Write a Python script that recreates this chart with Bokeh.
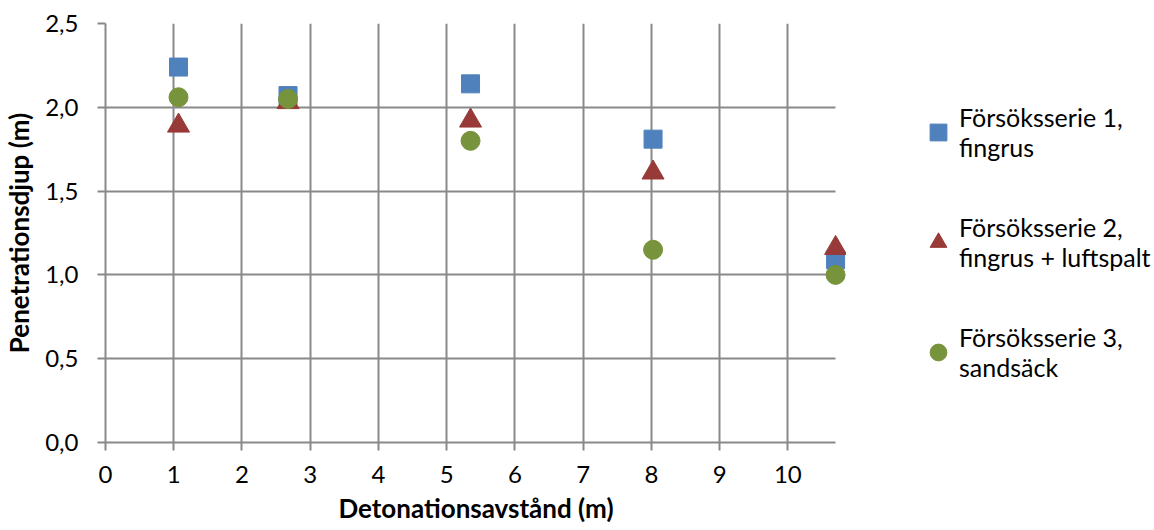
from bokeh.plotting import figure
from bokeh.layouts import row
from bokeh.models import Legend, LegendItem, FixedTicker
from bokeh.embed import file_html
from bokeh.resources import INLINE

# ---- data ----
x_values = [1.07, 2.675, 5.35, 8.025, 10.7]
serie1 = [2.24, 2.07, 2.14, 1.81, 1.09]
serie2 = [1.89, 2.03, 1.92, 1.61, 1.16]
serie3 = [2.06, 2.05, 1.80, 1.15, 1.00]
series_names = [
    "Försöksserie 1,\nfingrus",
    "Försöksserie 2,\nfingrus + luftspalt",
    "Försöksserie 3,\nsandsäck",
]
x_ticks = [0, 1, 2, 3, 4, 5, 6, 7, 8, 9, 10]
x_tick_labels = ["0", "1", "2", "3", "4", "5", "6", "7", "8", "9", "10"]
y_ticks = [0, 0.5, 1.0, 1.5, 2.0, 2.5]
y_tick_labels = ["0,0", "0,5", "1,0", "1,5", "2,0", "2,5"]
x_max = 10.7
x_title = "Detonationsavstånd (m)"
y_title = "Penetrationsdjup (m)"

# ---- style ----
FONT = "Lato"
GRID = "#898989"
BLUE = "#4F81BD"
RED = "#983A37"
GREEN = "#77933C"
markers = ["square", "triangle", "circle"]
colors = [BLUE, RED, GREEN]
sizes = [18, 22, 19]

# main plot: frame a little wider than x_max so edge markers are not cut;
# grid and axis line stop at x_max as in the original
p = figure(width=846, height=530, x_range=(0, 10.86), y_range=(0, 2.5),
           output_backend="svg", toolbar_location=None,
           min_border_left=104, min_border_right=0,
           min_border_top=23, min_border_bottom=88)

p.outline_line_color = None
p.background_fill_color = "white"
p.border_fill_color = "white"

for g in (p.xgrid, p.ygrid):
    g.grid_line_color = GRID
    g.grid_line_width = 2
p.ygrid.cross_bounds = (0, x_max)

p.xaxis.ticker = FixedTicker(ticks=x_ticks)
p.yaxis.ticker = FixedTicker(ticks=y_ticks)
p.xaxis.major_label_overrides = dict(zip(x_ticks, x_tick_labels))
p.yaxis.major_label_overrides = dict(zip(y_ticks, y_tick_labels))
p.xaxis.bounds = (0, x_max)

for ax in (p.xaxis, p.yaxis):
    ax.axis_line_color = GRID
    ax.axis_line_width = 2
    ax.major_tick_line_color = GRID
    ax.major_tick_line_width = 2
    ax.major_tick_out = 8
    ax.major_tick_in = 0
    ax.minor_tick_line_color = None
    ax.major_label_text_font = FONT
    ax.major_label_text_font_size = "24px"
    ax.major_label_text_color = "#000000"
    ax.axis_label_text_font = FONT
    ax.axis_label_text_font_size = "26px"
    ax.axis_label_text_font_style = "bold"
    ax.axis_label_text_color = "#000000"

p.xaxis.axis_label = x_title
p.yaxis.axis_label = y_title
p.xaxis.major_label_standoff = 15
p.xaxis.axis_label_standoff = 6
p.yaxis.major_label_standoff = 19
p.yaxis.axis_label_standoff = 7

series = [serie1, serie2, serie3]
for ys, m, c, s in zip(series, markers, colors, sizes):
    p.scatter(x_values, ys, marker=m, size=s, fill_color=c, line_color=c)

# legend panel to the right of the plot (its frame is aligned with the plot's)
pl = figure(width=308, height=530, x_range=(0, 1), y_range=(0, 1),
            x_axis_type=None, y_axis_type=None,
            output_backend="svg", toolbar_location=None, min_border=0)
pl.outline_line_color = None
pl.xgrid.visible = False
pl.ygrid.visible = False

nan = float("nan")
items = []
for name, m, c, s in zip(series_names, markers, colors, sizes):
    # legend-only renderer: a single undefined point, nothing is plotted
    r = pl.scatter(x=[nan], y=[nan], marker=m, size=s, fill_color=c, line_color=c)
    items.append(LegendItem(label=name, renderers=[r]))

legend = Legend(
    items=items, location=(71, 60), orientation="vertical",
    label_text_font=FONT, label_text_font_size="25px",
    label_text_line_height=1.3, label_text_color="#000000",
    glyph_width=42, glyph_height=42, label_standoff=0,
    spacing=50, padding=0, margin=0,
    border_line_color=None, background_fill_alpha=0,
)
pl.add_layout(legend)

layout = row(p, pl, spacing=0)
open("out.html", "w").write(file_html(layout, INLINE))
